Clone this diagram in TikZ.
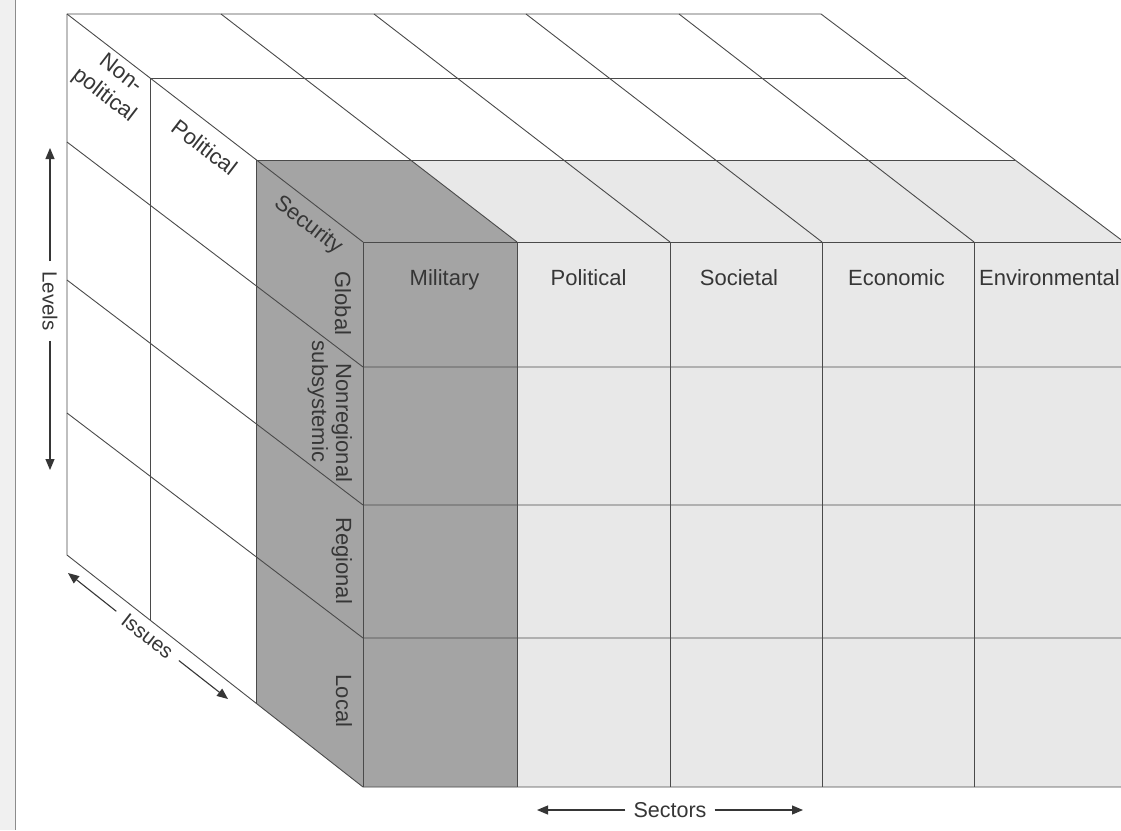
\documentclass[tikz,border=0pt]{standalone}
\usepackage{fontspec}
\setmainfont{Liberation Sans}
\usetikzlibrary{arrows.meta,calc}
\definecolor{darkface}{HTML}{A4A4A4}
\definecolor{lightface}{HTML}{E8E8E8}
\definecolor{ink}{HTML}{363636}
\definecolor{edgecol}{HTML}{4A4A4A}
\definecolor{pagecol}{HTML}{8C8C8C}
\begin{document}
\begin{tikzpicture}[x=1pt,y=-1pt,line join=round,
  gridline/.style={draw=edgecol,line width=0.9pt},
  lbl/.style={text=ink,font=\fontsize{22}{27}\selectfont,inner sep=0pt},
  axlbl/.style={text=ink,font=\fontsize{20.5}{24}\selectfont,inner ysep=0pt},
  axarrow/.style={draw=ink,line width=1.1pt,-{Triangle[length=11pt,width=9pt]}},
  pageline/.style={draw=pagecol,line width=1pt}]
\useasboundingbox (0,0) rectangle (1121,830);
\fill[white] (0,0) rectangle (1121,830);
\fill[black!6] (0,0) rectangle (15,830);
% page rule
\coordinate (pg1) at (15,0);
\coordinate (pg2) at (15,830);
\draw[pageline] (pg1) -- (pg2);

% back top edge dividers
\coordinate (B0) at (67,14);
\coordinate (B1) at (221,14);
\coordinate (B2) at (374,14);
\coordinate (B3) at (526,14);
\coordinate (B4) at (679,14);
\coordinate (B5) at (821,14);
% front top
\coordinate (F0) at (363,242);
\coordinate (F1) at (517,242);
\coordinate (F2) at (670,242);
\coordinate (F3) at (822,242);
\coordinate (F4) at (974,242);
\coordinate (F5) at (1124,242);
% front bottom
\coordinate (G0) at (363,787);
\coordinate (G1) at (517,787);
\coordinate (G2) at (670,787);
\coordinate (G3) at (822,787);
\coordinate (G4) at (974,787);
\coordinate (G5) at (1124,787);
% back bottom
\coordinate (BB) at (67,555);
% slab boundaries
\coordinate (M1) at ($(B0)!0.2807!(F0)$);
\coordinate (N1) at ($(B5)!0.2807!(F5)$);
\coordinate (M2) at ($(B0)!0.6404!(F0)$);
\coordinate (N2) at ($(B5)!0.6404!(F5)$);
\coordinate (K1) at ($(BB)!0.2807!(G0)$);
\coordinate (K2) at ($(BB)!0.6404!(G0)$);
\coordinate (T1) at ($(B1)!0.6404!(F1)$);
% level lines
\coordinate (L1b) at (67,142);
\coordinate (L1f) at (363,367);
\coordinate (R1) at (1124,367);
\coordinate (L2b) at (67,280);
\coordinate (L2f) at (363,505);
\coordinate (R2) at (1124,505);
\coordinate (L3b) at (67,413);
\coordinate (L3f) at (363,638);
\coordinate (R3) at (1124,638);

% fills
\fill[lightface] (M2) -- (N2) -- (F5) -- (G5) -- (G0) -- (F0) -- cycle;
\fill[darkface] (M2) -- (T1) -- (F1) -- (G1) -- (G0) -- (K2) -- cycle;

% outline
\draw[gridline] (B0) -- (B5) -- (F5) -- (G5) -- (G0) -- (BB) -- cycle;
\draw[gridline] (F0) -- (F5);
\draw[gridline] (F0) -- (G0);
\draw[gridline] (F1) -- (G1);
\draw[gridline] (F2) -- (G2);
\draw[gridline] (F3) -- (G3);
\draw[gridline] (F4) -- (G4);
% top diagonals
\draw[gridline] (B0) -- (F0);
\draw[gridline] (B1) -- (F1);
\draw[gridline] (B2) -- (F2);
\draw[gridline] (B3) -- (F3);
\draw[gridline] (B4) -- (F4);
% top horizontals
\draw[gridline] (M1) -- (N1);
\draw[gridline] (M2) -- (N2);
% slab verticals on the side
\draw[gridline] (M1) -- (K1);
\draw[gridline] (M2) -- (K2);
% levels
\draw[gridline] (L1b) -- (L1f) -- (R1);
\draw[gridline] (L2b) -- (L2f) -- (R2);
\draw[gridline] (L3b) -- (L3f) -- (R3);

% issue labels
\node[lbl,rotate=-37.6,align=center] (nonpol) at (112,85) {Non-\\political};
\node[lbl,rotate=-37.6] (pol) at (204.5,147) {Political};
\node[lbl,rotate=-37.6] (sec) at (308,225.5) {Security};
% level labels
\node[lbl,rotate=-90,anchor=base] (glob) at (335,303.5) {Global};
\node[lbl,rotate=-90,anchor=base] (nonreg) at (336,423) {Nonregional};
\node[lbl,rotate=-90,anchor=base] (subsys) at (312,401.5) {subsystemic};
\node[lbl,rotate=-90,anchor=base] (reg) at (336,560.7) {Regional};
\node[lbl,rotate=-90,anchor=base] (loc) at (336,701) {Local};
% sector labels
\node[lbl,anchor=base] (mil) at (444.5,285) {Military};
\node[lbl,anchor=base] (spol) at (588.5,285) {Political};
\node[lbl,anchor=base] (soc) at (739,285) {Societal};
\node[lbl,anchor=base] (eco) at (896.5,285) {Economic};
\node[lbl,anchor=base] (env) at (1049.5,285) {Environmental};

% axes
\coordinate (lvtop) at (50,148);
\coordinate (lvbot) at (50,470);
\node[axlbl,rotate=-90,inner xsep=10pt] (levels) at (50,301) {Levels};
\draw[axarrow] (levels) -- (lvtop);
\draw[axarrow] (levels) -- (lvbot);

\coordinate (isA) at (68,573);
\coordinate (isB) at (228,699);
\node[axlbl,rotate=-38,inner xsep=10pt] (issues) at (147.5,636) {Issues};
\draw[axarrow] (issues) -- (isA);
\draw[axarrow] (issues) -- (isB);

\coordinate (seA) at (537,810);
\coordinate (seB) at (803,810);
\node[axlbl,font=\fontsize{21.5}{25}\selectfont,inner xsep=8pt] (sectors) at (670,810) {Sectors};
\draw[axarrow] (sectors) -- (seA);
\draw[axarrow] (sectors) -- (seB);
\end{tikzpicture}
\end{document}
